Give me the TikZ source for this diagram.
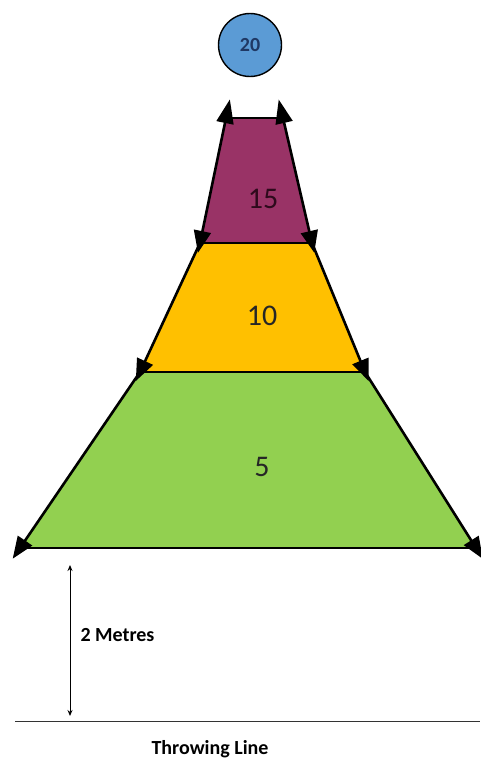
\documentclass[tikz,border=0pt]{standalone}
\usepackage{fontspec}
\setmainfont{Carlito}
\usetikzlibrary{arrows.meta,calc}
\definecolor{ZonePlum}{HTML}{993366}
\definecolor{ZoneGold}{HTML}{FFC000}
\definecolor{ZoneGreen}{HTML}{92D050}
\definecolor{BallBlue}{HTML}{5B9BD5}
\definecolor{BallText}{HTML}{1F3864}
\definecolor{PlumText}{HTML}{2E0A1C}

\begin{document}
\begin{tikzpicture}[x=1pt,y=-1pt,
    zoneedge/.style={line width=2.6pt},
    zonetop/.style={zoneedge, {Triangle[length=24pt,width=17pt]}-{Triangle[length=22pt,width=17pt]}},
    zonelow/.style={zoneedge, -{Triangle[length=22pt,width=17pt]}},
    zonelabel/.style={font=\fontsize{30}{32}\selectfont, text=black!85},
    notetext/.style={font=\bfseries\fontsize{20}{22}\selectfont}]
  \useasboundingbox (0,0) rectangle (480,760);
  % target ball
  \node[circle, draw=black, line width=1.4pt, fill=BallBlue, minimum size=63pt, inner sep=0pt,
        text=BallText, font=\bfseries\fontsize{20}{22}\selectfont] (ball) at (250,45) {20};
  % corners of the scoring zones
  \coordinate (t1) at (226,118); \coordinate (t2) at (283,118);
  \coordinate (m1) at (200,243); \coordinate (m2) at (312,243);
  \coordinate (l1) at (140,372); \coordinate (l2) at (365,372);
  \coordinate (b1) at (20,548);  \coordinate (b2) at (476,548);
  % arrow ends, a little past the corners
  \coordinate (t1e) at ($(t1)!-19pt!(m1)$); \coordinate (t2e) at ($(t2)!-19pt!(m2)$);
  \coordinate (m1e) at ($(m1)!-10pt!(t1)$); \coordinate (m2e) at ($(m2)!-10pt!(t2)$);
  \coordinate (l1e) at ($(l1)!-10pt!(m1)$); \coordinate (l2e) at ($(l2)!-10pt!(m2)$);
  \coordinate (b1e) at ($(b1)!-13pt!(l1)$); \coordinate (b2e) at ($(b2)!-13pt!(l2)$);
  % zone fills
  \fill[ZoneGreen] (l1) -- (l2) -- (b2) -- (b1) -- cycle;
  \fill[ZoneGold] (m1) -- (m2) -- (l2) -- (l1) -- cycle;
  \fill[ZonePlum] (t1) -- (t2) -- (m2) -- (m1) -- cycle;
  % zone edges
  \draw[zoneedge] (t1) -- (t2);
  \draw[zoneedge] (m1) -- (m2);
  \draw[zoneedge] (l1) -- (l2);
  \draw[zoneedge] (b1) -- (b2);
  \draw[zonetop] (t1e) -- (m1e);
  \draw[zonetop] (t2e) -- (m2e);
  \draw[zonelow] (m1) -- (l1e);
  \draw[zonelow] (m2) -- (l2e);
  \draw[zonelow] (l1) -- (b1e);
  \draw[zonelow] (l2) -- (b2e);
  % points
  \node[zonelabel, text=PlumText] (pts15) at (263,199) {15};
  \node[zonelabel] (pts10) at (262,316) {10};
  \node[zonelabel] (pts5) at (262,467) {5};
  % distance to the throwing line
  \coordinate (d1) at (70,565);
  \coordinate (d2) at (70,716);
  \draw[line width=0.9pt, {Stealth[length=6pt,width=5pt]}-{Stealth[length=6pt,width=5pt]}] (d1) -- (d2);
  \node[anchor=west, notetext] (dist) at (77,635) {2 Metres};
  \coordinate (w1) at (15,721);
  \coordinate (w2) at (480,721);
  \draw[line width=1pt, black!80] (w1) -- (w2);
  \node[notetext] (wline) at (210,749) {Throwing Line};
\end{tikzpicture}
\end{document}
